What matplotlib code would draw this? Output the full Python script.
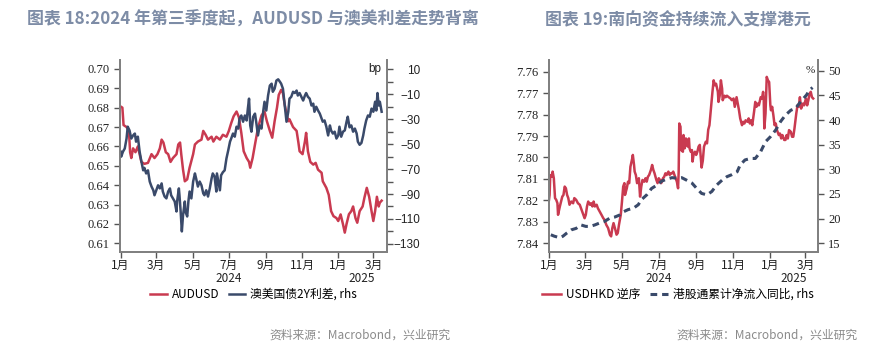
import matplotlib
matplotlib.use("Agg")
import matplotlib.pyplot as plt
import matplotlib.ticker as mticker
import matplotlib.transforms as mtrans
import pandas as pd

plt.rcParams['font.family'] = ['Noto Sans CJK SC', 'DejaVu Sans']

# ---------------- data: left chart ----------------
aud_dates = ["2024-01-01","2024-01-04","2024-01-06","2024-01-11","2024-01-15","2024-01-17","2024-01-19","2024-01-22","2024-01-26","2024-01-30",
             "2024-02-02","2024-02-05","2024-02-10","2024-02-16","2024-02-22","2024-02-27","2024-03-03","2024-03-07","2024-03-10","2024-03-13",
             "2024-03-17","2024-03-21","2024-03-25","2024-03-29","2024-04-04","2024-04-07","2024-04-10","2024-04-12","2024-04-15","2024-04-18",
             "2024-04-22","2024-04-26","2024-05-02","2024-05-05","2024-05-10","2024-05-16","2024-05-19","2024-05-23","2024-05-27","2024-06-02",
             "2024-06-05","2024-06-10","2024-06-16","2024-06-21","2024-06-27","2024-07-01","2024-07-05","2024-07-09","2024-07-14","2024-07-18",
             "2024-07-22","2024-07-26","2024-07-31","2024-08-04","2024-08-06","2024-08-10","2024-08-14","2024-08-19","2024-08-25","2024-08-30",
             "2024-09-03","2024-09-08","2024-09-12","2024-09-16","2024-09-20","2024-09-23","2024-09-27","2024-09-30","2024-10-03","2024-10-06",
             "2024-10-09","2024-10-11","2024-10-17","2024-10-23","2024-10-26","2024-10-28","2024-11-02","2024-11-06","2024-11-08","2024-11-11",
             "2024-11-15","2024-11-20","2024-11-24","2024-11-28","2024-12-04","2024-12-06","2024-12-12","2024-12-16","2024-12-20","2024-12-24",
             "2024-12-29","2025-01-01","2025-01-05","2025-01-09","2025-01-12","2025-01-15","2025-01-19","2025-01-23","2025-01-26","2025-01-30",
             "2025-02-02","2025-02-06","2025-02-11","2025-02-14","2025-02-18","2025-02-22","2025-02-26","2025-03-01","2025-03-04","2025-03-07",
             "2025-03-10","2025-03-12","2025-03-15"]
audusd = [0.6806,0.680,0.671,0.670,0.668,0.657,0.654,0.659,0.657,0.660,
          0.656,0.652,0.651,0.6515,0.656,0.654,0.656,0.659,0.6635,0.662,
          0.657,0.656,0.652,0.654,0.656,0.661,0.662,0.656,0.648,0.642,
          0.643,0.649,0.656,0.661,0.6625,0.6635,0.668,0.666,0.6635,0.665,
          0.6625,0.665,0.6635,0.666,0.665,0.668,0.672,0.6755,0.678,0.675,
          0.667,0.6575,0.654,0.652,0.649,0.654,0.661,0.6695,0.676,0.678,
          0.673,0.668,0.6645,0.673,0.680,0.6866,0.6892,0.6875,0.6815,0.677,
          0.673,0.674,0.670,0.668,0.662,0.6575,0.656,0.6626,0.667,0.6575,
          0.652,0.6506,0.6515,0.648,0.6464,0.642,0.6386,0.635,0.6266,0.624,
          0.623,0.6215,0.6249,0.6198,0.6155,0.620,0.625,0.6266,0.629,0.623,
          0.6206,0.6266,0.629,0.6335,0.6386,0.634,0.6266,0.6215,0.6266,0.634,
          0.629,0.631,0.632]

spr_dates = ["2024-01-01","2024-01-02","2024-01-05","2024-01-08","2024-01-11","2024-01-13","2024-01-16","2024-01-19","2024-01-22","2024-01-25",
             "2024-01-27","2024-01-30","2024-02-02","2024-02-05","2024-02-08","2024-02-10","2024-02-13","2024-02-16","2024-02-19","2024-02-22",
             "2024-02-25","2024-02-27","2024-03-01","2024-03-04","2024-03-07","2024-03-10","2024-03-12","2024-03-15","2024-03-18","2024-03-21",
             "2024-03-24","2024-03-26","2024-03-29","2024-04-01","2024-04-04","2024-04-05","2024-04-08","2024-04-09","2024-04-11","2024-04-13",
             "2024-04-15","2024-04-18","2024-04-19","2024-04-22","2024-04-24","2024-04-26","2024-04-29","2024-05-02","2024-05-05","2024-05-07",
             "2024-05-10","2024-05-13","2024-05-16","2024-05-19","2024-05-21","2024-05-24","2024-05-27","2024-05-30","2024-06-02","2024-06-04",
             "2024-06-07","2024-06-10","2024-06-11","2024-06-13","2024-06-16","2024-06-18","2024-06-21","2024-06-24","2024-06-27","2024-06-30",
             "2024-07-03","2024-07-05","2024-07-08","2024-07-11","2024-07-14","2024-07-17","2024-07-19","2024-07-22","2024-07-25","2024-07-28",
             "2024-07-31","2024-08-02","2024-08-04","2024-08-06","2024-08-08","2024-08-11","2024-08-14","2024-08-16","2024-08-19","2024-08-22",
             "2024-08-25","2024-08-28","2024-08-30","2024-09-02","2024-09-05","2024-09-08","2024-09-11","2024-09-13","2024-09-16","2024-09-19",
             "2024-09-22","2024-09-25","2024-09-27","2024-09-30","2024-10-03","2024-10-06","2024-10-09","2024-10-11","2024-10-14","2024-10-17",
             "2024-10-20","2024-10-23","2024-10-25","2024-10-28","2024-10-31","2024-11-03","2024-11-06","2024-11-08","2024-11-11","2024-11-14",
             "2024-11-17","2024-11-20","2024-11-22","2024-11-25","2024-11-28","2024-12-01","2024-12-04","2024-12-06","2024-12-09","2024-12-12",
             "2024-12-15","2024-12-18","2024-12-20","2024-12-23","2024-12-26","2024-12-29","2025-01-01","2025-01-03","2025-01-06","2025-01-09",
             "2025-01-12","2025-01-15","2025-01-17","2025-01-20","2025-01-23","2025-01-26","2025-01-29","2025-02-01","2025-02-03","2025-02-06",
             "2025-02-09","2025-02-12","2025-02-14","2025-02-17","2025-02-20","2025-02-23","2025-02-26","2025-03-01","2025-03-04","2025-03-06",
             "2025-03-08","2025-03-10","2025-03-12","2025-03-15"]
au_us_2y_spread = [-56,-60,-56,-53.5,-45.5,-36,-39,-45.5,-43,-41.5,
                   -48,-44,-56,-64,-71,-69,-73.5,-71,-80,-84,
                   -87,-91,-87,-83,-85.5,-81.5,-88,-92,-93.5,-88,
                   -85.5,-91,-93.5,-96,-104,-96,-85.5,-91,-104,-120,
                   -107,-96,-104,-108,-96,-88,-93.5,-80,-73.5,-77.5,
                   -84,-80,-83,-89.5,-91,-87,-92,-85.5,-77.5,-73.5,
                   -76,-88,-73.5,-79,-87,-75,-72.5,-71,-61.5,-55,
                   -48,-45.5,-41.5,-44,-36,-37.5,-29.5,-27,-32,-27,
                   -31,-21.5,-13.5,-35,-40,-28,-25.5,-32,-43,-35,
                   -37.5,-23,-16,-23,-11,-3,-1.5,-8,-5.5,1,
                   2,0,-1.5,-5.5,-19,-32,-24,-13.5,-12,-8,
                   -9,-7,-11,-9,-12,-15,-11,-9,-12,-13.5,
                   -19,-17.5,-24,-20,-23,-25.5,-29.5,-32,-31,-36,
                   -43,-35,-39,-41.5,-40,-45.5,-43,-36,-44,-40,
                   -39,-32,-28,-36.5,-35,-40,-37.5,-41.5,-48,-50.5,
                   -49,-43,-37.5,-31,-27,-28,-21.5,-24,-16,-23,
                   -9,-19,-16,-24]

# ---------------- data: right chart ----------------
hkd_dates = ["2024-01-01","2024-01-02","2024-01-03","2024-01-04","2024-01-06","2024-01-07","2024-01-09","2024-01-11","2024-01-13","2024-01-15",
             "2024-01-16","2024-01-19","2024-01-21","2024-01-23","2024-01-25","2024-01-27","2024-01-29","2024-01-31","2024-02-02","2024-02-04",
             "2024-02-07","2024-02-10","2024-02-12","2024-02-15","2024-02-18","2024-02-21","2024-02-23","2024-02-26","2024-02-29","2024-03-02",
             "2024-03-04","2024-03-06","2024-03-09","2024-03-11","2024-03-13","2024-03-15","2024-03-17","2024-03-20","2024-03-22","2024-03-25",
             "2024-03-28","2024-03-31","2024-04-02","2024-04-05","2024-04-08","2024-04-11","2024-04-13","2024-04-15","2024-04-17","2024-04-20",
             "2024-04-22","2024-04-24","2024-04-26","2024-04-29","2024-05-01","2024-05-03","2024-05-05","2024-05-06","2024-05-09","2024-05-11",
             "2024-05-13","2024-05-15","2024-05-18","2024-05-19","2024-05-21","2024-05-22","2024-05-24","2024-05-26","2024-05-29","2024-05-31",
             "2024-06-02","2024-06-04","2024-06-07","2024-06-09","2024-06-11","2024-06-13","2024-06-15","2024-06-18","2024-06-20","2024-06-22",
             "2024-06-24","2024-06-27","2024-06-29","2024-07-01","2024-07-03","2024-07-05","2024-07-08","2024-07-10","2024-07-12","2024-07-14",
             "2024-07-17","2024-07-19","2024-07-21","2024-07-23","2024-07-25","2024-07-28","2024-07-31","2024-08-02","2024-08-03","2024-08-04",
             "2024-08-06","2024-08-07","2024-08-10","2024-08-11","2024-08-13","2024-08-15","2024-08-16","2024-08-18","2024-08-20","2024-08-21",
             "2024-08-23","2024-08-25","2024-08-26","2024-08-28","2024-08-30","2024-09-01","2024-09-03","2024-09-05","2024-09-07","2024-09-09",
             "2024-09-10","2024-09-12","2024-09-14","2024-09-17","2024-09-19","2024-09-21","2024-09-23","2024-09-25","2024-09-28","2024-09-30",
             "2024-10-02","2024-10-04","2024-10-07","2024-10-08","2024-10-10","2024-10-12","2024-10-14","2024-10-15","2024-10-18","2024-10-20",
             "2024-10-22","2024-10-25","2024-10-28","2024-10-30","2024-11-02","2024-11-04","2024-11-07","2024-11-09","2024-11-11","2024-11-13",
             "2024-11-16","2024-11-18","2024-11-20","2024-11-22","2024-11-25","2024-11-27","2024-11-29","2024-12-01","2024-12-03","2024-12-06",
             "2024-12-08","2024-12-10","2024-12-12","2024-12-14","2024-12-17","2024-12-19","2024-12-21","2024-12-22","2024-12-23","2024-12-25",
             "2024-12-27","2024-12-29","2024-12-31","2025-01-02","2025-01-03","2025-01-05","2025-01-07","2025-01-09","2025-01-11","2025-01-13",
             "2025-01-16","2025-01-18","2025-01-20","2025-01-22","2025-01-25","2025-01-27","2025-01-29","2025-01-31","2025-02-02","2025-02-05",
             "2025-02-07","2025-02-09","2025-02-11","2025-02-14","2025-02-16","2025-02-18","2025-02-20","2025-02-22","2025-02-25","2025-02-27",
             "2025-03-02","2025-03-04","2025-03-06","2025-03-08","2025-03-10","2025-03-12","2025-03-14"]
usdhkd = [7.8198,7.8175,7.809,7.8082,7.809,7.8066,7.8097,7.819,7.8198,7.8214,
          7.8268,7.8229,7.8206,7.8183,7.8175,7.8136,7.8144,7.8175,7.819,7.8221,
          7.8206,7.8214,7.819,7.8198,7.8214,7.8221,7.8237,7.826,7.8284,7.8268,
          7.8229,7.8206,7.8221,7.8214,7.8229,7.8206,7.8229,7.8221,7.8237,7.8252,
          7.8268,7.8284,7.8291,7.8315,7.833,7.8361,7.8369,7.833,7.8307,7.8338,
          7.8361,7.8353,7.8315,7.8268,7.8206,7.8136,7.812,7.8175,7.8144,7.8113,
          7.812,7.8043,7.8004,7.7988,7.8035,7.8066,7.8082,7.812,7.8097,7.8183,
          7.8136,7.8105,7.8113,7.8097,7.8113,7.809,7.8082,7.8058,7.8035,7.8058,
          7.8074,7.8105,7.812,7.8097,7.8105,7.812,7.8097,7.809,7.8074,7.8082,
          7.8066,7.8082,7.8074,7.8074,7.8066,7.809,7.8113,7.8144,7.8066,7.7841,
          7.7856,7.7965,7.7973,7.7895,7.7957,7.7911,7.7918,7.7949,7.7911,7.7957,
          7.7973,7.7965,7.8019,7.7981,7.7973,7.7988,7.7973,7.7949,7.7941,7.8015,
          7.8047,7.8015,7.7949,7.7926,7.7934,7.787,7.7849,7.7786,7.7693,7.7639,
          7.7662,7.7655,7.7693,7.774,7.7711,7.7639,7.7678,7.7732,7.7711,7.7718,
          7.7711,7.7718,7.7724,7.7732,7.7724,7.7763,7.7718,7.7748,7.7779,7.7817,
          7.7849,7.7833,7.7841,7.7826,7.7833,7.7817,7.7841,7.7826,7.7849,7.7786,
          7.774,7.7763,7.7748,7.7756,7.7718,7.7724,7.7693,7.7724,7.7864,7.7794,
          7.7623,7.7639,7.7647,7.7756,7.7779,7.7763,7.7802,7.7849,7.7841,7.7872,
          7.7895,7.7888,7.7911,7.7895,7.7918,7.7918,7.7895,7.7911,7.7872,7.788,
          7.7903,7.7903,7.7864,7.7794,7.7756,7.7763,7.7718,7.7771,7.7748,7.7756,
          7.7724,7.7756,7.7732,7.7701,7.7693,7.7718,7.7724]

flow_dates = ["2024-01-04","2024-01-10","2024-01-19","2024-01-24","2024-01-30","2024-02-07","2024-02-15","2024-02-23","2024-03-02","2024-03-09",
              "2024-03-17","2024-03-25","2024-04-02","2024-04-11","2024-04-19","2024-04-27","2024-05-04","2024-05-11","2024-05-20","2024-05-28",
              "2024-06-02","2024-06-11","2024-06-19","2024-06-28","2024-07-06","2024-07-14","2024-07-23","2024-07-31","2024-08-08","2024-08-16",
              "2024-08-25","2024-09-02","2024-09-10","2024-09-19","2024-09-27","2024-10-05","2024-10-14","2024-10-22","2024-10-30","2024-11-08",
              "2024-11-13","2024-11-21","2024-11-30","2024-12-08","2024-12-17","2024-12-25","2025-01-02","2025-01-11","2025-01-19","2025-01-27",
              "2025-02-05","2025-02-13","2025-02-21","2025-03-03","2025-03-08","2025-03-13"]
southbound_yoy = [16.7,16.4,16.1,16.4,17.0,17.7,18.0,18.7,18.4,18.4,
                  18.7,19.1,19.4,20.1,20.3,20.7,21.4,21.8,22.1,22.8,
                  23.8,24.8,26.1,26.8,27.6,28.0,28.3,28.2,28.3,27.8,
                  27.2,26.1,25.1,24.8,25.5,26.8,27.8,28.5,28.9,29.5,
                  30.9,31.9,32.2,32.2,33.6,35.6,36.6,38.0,39.7,41.0,
                  42.0,42.4,43.7,45.1,46.1,46.6]

month_ticks = ["2024-01-01","2024-03-01","2024-05-01","2024-07-01","2024-09-01","2024-11-01","2025-01-01","2025-03-01"]
month_labels = ["1月","3月","5月","7月","9月","11月","1月","3月"]

titles = ["图表 18:2024 年第三季度起，AUDUSD 与澳美利差走势背离", "图表 19:南向资金持续流入支撑港元"]
source = "资料来源：Macrobond，兴业研究"

RED = "#c93a50"
NAVY = "#3a4a6a"
SPINE = "#808080"
TITLE_C = "#7d8ca6"

fig = plt.figure(figsize=(8.88, 3.48), dpi=100)
W, H = 888, 348

def add_axes_px(x0, x1, ytop, ybot):
    return fig.add_axes([x0 / W, 1 - ybot / H, (x1 - x0) / W, (ybot - ytop) / H])

def style_base(ax, ax2, xlim, year_pos):
    for a in (ax, ax2):
        a.spines['top'].set_visible(False)
        for s in ('left', 'right', 'bottom'):
            a.spines[s].set_color(SPINE)
            a.spines[s].set_linewidth(1.3)
        a.set_xlim(pd.Timestamp(xlim[0]), pd.Timestamp(xlim[1]))
    ax.set_xticks([pd.Timestamp(d) for d in month_ticks])
    ax.set_xticklabels(month_labels)
    ax.tick_params(axis='x', direction='out', length=4, width=1, colors='#555555',
                   labelcolor='#222222', labelsize=8.5, pad=1)
    ax.tick_params(axis='y', direction='out', length=4, width=1, colors='#555555',
                   labelcolor='#222222')
    ax2.tick_params(axis='y', direction='out', length=4, width=1, colors='#555555',
                    labelcolor='#222222')
    ax2.tick_params(axis='y', which='minor', direction='out', length=4, width=1, colors='#555555')
    trans = mtrans.blended_transform_factory(ax.transData, ax.transAxes)
    for yr, d in year_pos:
        ax.text(pd.Timestamp(d), -0.138, yr, transform=trans, ha='center', va='center',
                fontsize=8.5, color='#222222')

# ---------------- left chart ----------------
axL = add_axes_px(120, 387, 60, 252)
axL2 = axL.twinx()
lr, = axL.plot(pd.to_datetime(aud_dates), audusd, color=RED, lw=1.8)
ln, = axL2.plot(pd.to_datetime(spr_dates), au_us_2y_spread, color=NAVY, lw=1.8)
axL.set_ylim(0.6055, 0.7046)
axL2.set_ylim(-136.5, 17.5)
axL.yaxis.set_major_locator(mticker.MultipleLocator(0.01))
axL.yaxis.set_major_formatter(mticker.FormatStrFormatter('%.2f'))
axL2.set_yticks([10, -10, -30, -50, -70, -90, -110, -130])
axL2.yaxis.set_minor_locator(mticker.FixedLocator([0, -20, -40, -60, -80, -100, -120]))
style_base(axL, axL2, ("2023-12-31", "2025-03-24"), [("2024", "2024-07-01"), ("2025", "2025-02-10")])
for lab in axL.get_yticklabels():
    lab.set_fontfamily(['Liberation Serif'])
    lab.set_fontsize(9)
for lab in axL2.get_yticklabels():
    lab.set_fontfamily(['Liberation Sans'])
    lab.set_fontsize(8.5)
    lab.set_ha('right')
axL2.tick_params(axis='y', pad=20)
axL.text(0.955, 0.955, "bp", transform=axL.transAxes, ha='center', va='center',
         fontsize=8.5, color='#222222', family=['Liberation Sans'])
axL.legend([lr, ln], ["AUDUSD", "澳美国债2Y利差, rhs"], loc='center', bbox_to_anchor=(0.5, -0.222),
           ncol=2, frameon=False, fontsize=8.5, handlelength=1.4, handletextpad=0.4,
           columnspacing=0.8, borderaxespad=0, borderpad=0)

# ---------------- right chart ----------------
axR = add_axes_px(549, 818, 60, 252)
axR2 = axR.twinx()
rr, = axR.plot(pd.to_datetime(hkd_dates), usdhkd, color=RED, lw=1.8)
rn, = axR2.plot(pd.to_datetime(flow_dates), southbound_yoy, color=NAVY, lw=2.2,
                dashes=(2.2, 1.6))
axR.set_ylim(7.8442, 7.7544)
axR2.set_ylim(13.2, 52.2)
axR.yaxis.set_major_locator(mticker.MultipleLocator(0.01))
axR.yaxis.set_major_formatter(mticker.FormatStrFormatter('%.2f'))
axR2.yaxis.set_major_locator(mticker.MultipleLocator(5))
style_base(axR, axR2, ("2024-01-01", "2025-03-22"), [("2024", "2024-07-01"), ("2025", "2025-02-09")])
for lab in axR.get_yticklabels() + axR2.get_yticklabels():
    lab.set_fontfamily(['Liberation Serif'])
    lab.set_fontsize(9)
axR.text(0.97, 0.945, "%", transform=axR.transAxes, ha='center', va='center',
         fontsize=8, color='#222222', family=['Liberation Serif'])
axR.legend([rr, rn], ["USDHKD 逆序", "港股通累计净流入同比, rhs"], loc='center',
           bbox_to_anchor=(0.48, -0.222), ncol=2, frameon=False, fontsize=8.5,
           handlelength=1.6, handletextpad=0.4, columnspacing=0.8, borderaxespad=0, borderpad=0)

# ---------------- titles & sources ----------------
fig.text(27 / W, 1 - 20 / H, titles[0], ha='left', va='center', fontsize=12.2,
         fontweight='bold', color=TITLE_C)
fig.text(545 / W, 1 - 20 / H, titles[1], ha='left', va='center', fontsize=12.2,
         fontweight='bold', color=TITLE_C)
fig.text(451 / W, 1 - 335 / H, source, ha='right', va='center', fontsize=8.5, color='#8a8a8a')
fig.text(858 / W, 1 - 335 / H, source, ha='right', va='center', fontsize=8.5, color='#8a8a8a')

fig.savefig("out.png", dpi=100)
